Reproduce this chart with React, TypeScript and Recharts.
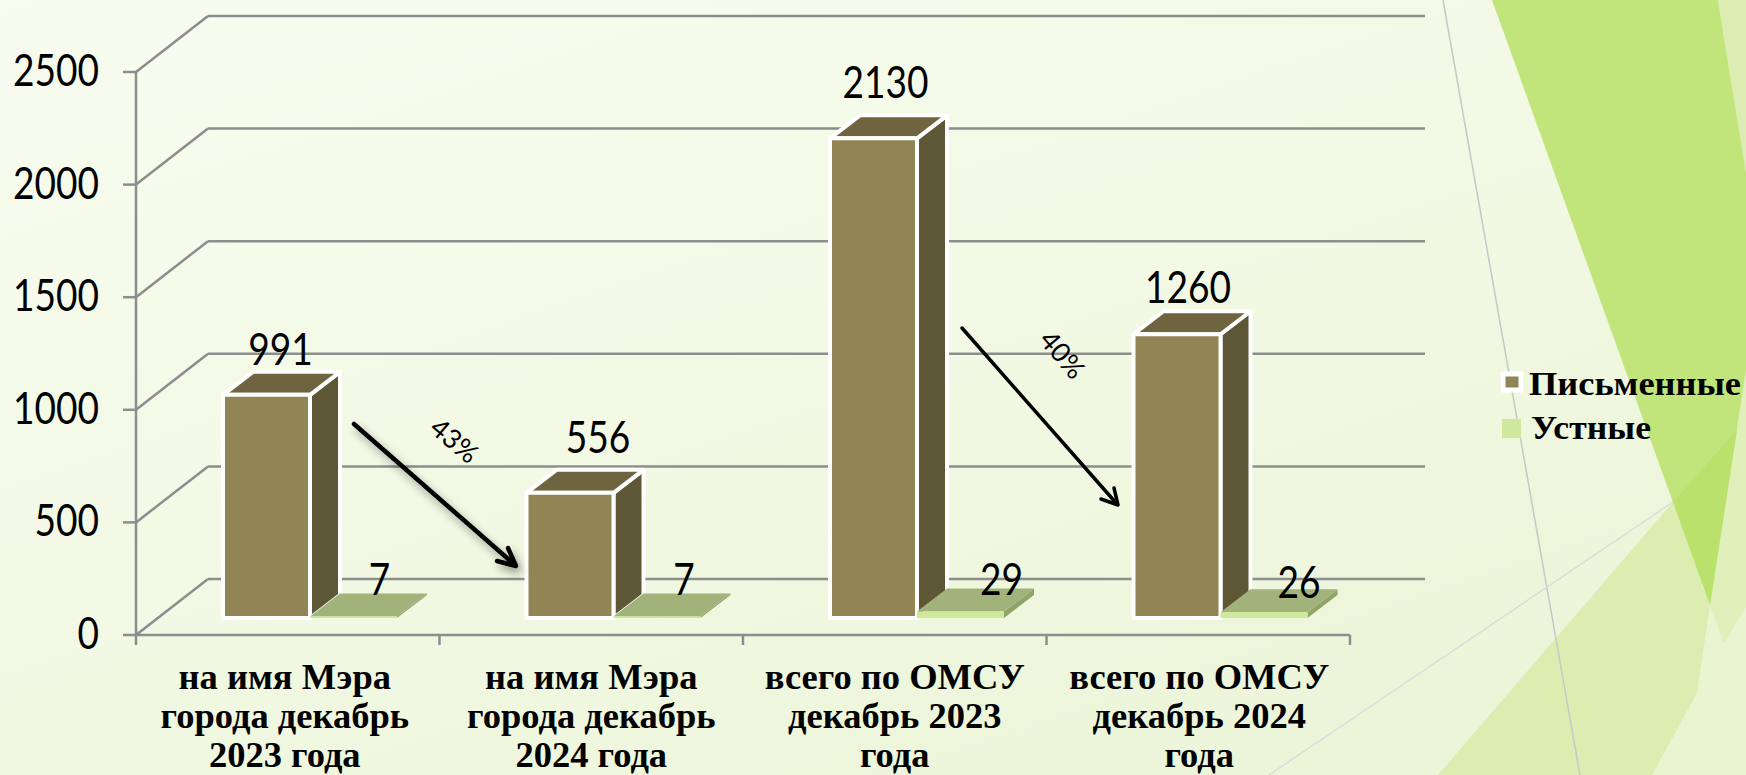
import React from "react";
import { BarChart, Bar, XAxis, YAxis, CartesianGrid, Legend, LabelList } from "recharts";

const categories = [
  "на имя Мэра\nгорода декабрь\n2023 года",
  "на имя Мэра\nгорода декабрь\n2024 года",
  "всего по ОМСУ\nдекабрь 2023\nгода",
  "всего по ОМСУ\nдекабрь 2024\nгода",
];
const written = [991, 556, 2130, 1260];
const oral = [7, 7, 29, 26];
const yTicks = [0, 500, 1000, 1500, 2000, 2500];
const data = categories.map((name, i) => ({ name, written: written[i], oral: oral[i] }));

const NUM_FONT = "Lato,'Liberation Sans',sans-serif";
const SERIF = "'Liberation Serif',serif";
const WALL_DX = 72, WALL_DY = -56;
const BAR_DX = 22, BAR_DY = -17;
const TOP_DX = 30, TOP_DY = -23;
const LEFT = 136, RIGHT = 1350, FLOOR = 635;
const GRID = "#8d8d8d";
const DIGIT_W = 21.5;

const writtenShift = [[14, -61], [28, -71], [12, -71], [11, -62]];
const oralShift = [[26, -52], [27, -52], [41, -47], [35, -45]];
const tickShift = [-3, 0, 0, 1];

function Num({ x, y, value, anchor = "middle" }: any) {
  const s = String(value);
  return (
    <text x={x} y={y} textAnchor={anchor} fontFamily={NUM_FONT} fontSize={44} fill="#000"
      textLength={s.length * DIGIT_W} lengthAdjust="spacingAndGlyphs">{s}</text>
  );
}

function Block({ x, y, width, height, front, top, side, border }: any) {
  const X = x + BAR_DX, Y = y + BAR_DY, B = Y + height, R = X + width;
  const st = border ? { stroke: "#ffffff", strokeWidth: 4, strokeLinejoin: "round" as const } : {};
  return (
    <g>
      <polygon points={`${R},${Y} ${R + TOP_DX},${Y + TOP_DY} ${R + TOP_DX},${B + TOP_DY} ${R},${B}`} fill={side} {...st} />
      <polygon points={`${X},${Y} ${X + TOP_DX},${Y + TOP_DY} ${R + TOP_DX},${Y + TOP_DY} ${R},${Y}`} fill={top} {...st} />
      <rect x={X} y={Y} width={width} height={height} fill={front} {...st} />
    </g>
  );
}
const WrittenBar = (p: any) => <Block {...p} front="#918556" top="#6e6540" side="#5e5736" border />;
const OralBar = (p: any) => <Block {...p} front="#cfe89c" top="#a2b27b" side="#8fa568" />;

const makeLabel = (shift: number[][]) => (p: any) => {
  const { x, y, width, value, index } = p;
  return <Num x={x + BAR_DX + width / 2 + shift[index][0]} y={y + BAR_DY + shift[index][1] + 17 + 14} value={value} />;
};

function YTick({ y, payload }: any) {
  return (
    <g>
      <line x1={LEFT - 13} x2={LEFT} y1={y} y2={y} stroke={GRID} strokeWidth={2.5} />
      <Num x={99} y={y + 14} value={payload.value} anchor="end" />
    </g>
  );
}

function XTick({ x, payload, index }: any) {
  const lines = String(payload.value).split("\n");
  const half = (RIGHT - LEFT) / categories.length / 2;
  return (
    <g>
      <line x1={x - half} x2={x - half} y1={FLOOR} y2={FLOOR + 10} stroke={GRID} strokeWidth={2.5} />
      {index === categories.length - 1 && (
        <line x1={x + half} x2={x + half} y1={FLOOR} y2={FLOOR + 10} stroke={GRID} strokeWidth={2.5} />
      )}
      {lines.map((l, i) => (
        <text key={i} x={x + tickShift[index]} y={689 + i * 39} textAnchor="middle" fontFamily={SERIF} fontWeight="bold" fontSize={36.5} fill="#000">{l}</text>
      ))}
    </g>
  );
}

function GridLine(p: any) {
  const { x1, x2, y1 } = p;
  return (
    <g>
      <line x1={x1} y1={y1} x2={x1 + WALL_DX} y2={y1 + WALL_DY} stroke={GRID} strokeWidth={2.5} />
      <line x1={x1 + WALL_DX} y1={y1 + WALL_DY} x2={x2 + WALL_DX + 3} y2={y1 + WALL_DY} stroke={GRID} strokeWidth={2.5} />
    </g>
  );
}

function LegendBox() {
  return (
    <svg width={246} height={90} style={{ display: "block" }}>
      <rect x={4} y={8} width={18} height={16} fill="#918556" stroke="#fff" strokeWidth={5} />
      <text x={30} y={29} fontFamily={SERIF} fontWeight="bold" fontSize={33} textLength={212} lengthAdjust="spacingAndGlyphs" fill="#000">Письменные</text>
      <rect x={3} y={53} width={19} height={19} fill="#cfe89c" />
      <text x={32} y={73} fontFamily={SERIF} fontWeight="bold" fontSize={33} textLength={120} lengthAdjust="spacingAndGlyphs" fill="#000">Устные</text>
    </svg>
  );
}

function Backdrop() {
  return (
    <svg width={1746} height={775} style={{ position: "absolute", left: 0, top: 0 }}>
      <defs>
        <linearGradient id="bg" x1="0" y1="0" x2="0.75" y2="1">
          <stop offset="0" stopColor="#f8fcf0" />
          <stop offset="0.5" stopColor="#f3f9e5" />
          <stop offset="1" stopColor="#ebf5d8" />
        </linearGradient>
      </defs>
      <rect width={1746} height={775} fill="url(#bg)" />
      <polygon points="1746,370 1710,605 1697,692 1652,775 1746,775" fill="#e9f4d1" />
      <polygon points="1746,370 1710,605 1724,643 1746,607" fill="#dff0bb" />
      <polygon points="1718,0 1746,0 1746,173" fill="#dcedb3" />
      <polygon points="1492,0 1718,0 1746,173 1746,370 1710,605" fill="#c2e57b" />
      <polygon points="1438,775 1673,502 1710,605 1697,693 1652,775" fill="#dcedb1" />
      <polygon points="1673,502 1737,430 1710,605" fill="#bbe16d" />
      <line x1="1443" y1="0" x2="1580" y2="775" stroke="#c4c8c6" strokeWidth={1.5} />
      <line x1="1269" y1="775" x2="1673" y2="502" stroke="#d9ddd8" strokeWidth={1.5} />
    </svg>
  );
}

function Annotations() {
  return (
    <svg width={1746} height={775} style={{ position: "absolute", left: 0, top: 0, pointerEvents: "none" }}>
      <g style={{ filter: "drop-shadow(3px 5px 4px rgba(0,0,0,0.4))" }} fill="none" stroke="#000" strokeWidth={4.5} strokeLinecap="round" strokeLinejoin="round">
        <line x1={354} y1={424} x2={515} y2={565} />
        <path d="M508,548 L516,566 L497,561" />
      </g>
      <g fill="none" stroke="#000" strokeWidth={3.5} strokeLinecap="round" strokeLinejoin="round">
        <line x1={962} y1={328} x2={1117} y2={504} />
        <path d="M1114,488 L1118,505 L1101,499" />
      </g>
      <text transform="translate(454,441) rotate(40)" y={9} textAnchor="middle" fontFamily={NUM_FONT} fontSize={27} fill="#000">43%</text>
      <text transform="translate(1062,355) rotate(50)" y={9} textAnchor="middle" fontFamily={NUM_FONT} fontSize={27} fill="#000">40%</text>
    </svg>
  );
}

export default function App() {
  return (
    <div style={{ position: "absolute", left: 0, top: 0, width: 1746, height: 775, overflow: "hidden" }}>
      <Backdrop />
      <div style={{ position: "absolute", left: 0, top: 0 }}>
        <BarChart width={1746} height={775} data={data} margin={{ top: 72, right: 150, bottom: 0, left: 0 }}
          barCategoryGap={65} barGap={0}>
          <CartesianGrid horizontal={GridLine as any} vertical={false} syncWithTicks />
          <XAxis dataKey="name" height={140} interval={0} tick={<XTick />} tickLine={false} axisLine={{ stroke: GRID, strokeWidth: 2.5 }} />
          <YAxis width={136} domain={[0, 2500]} ticks={yTicks} tick={<YTick />} tickLine={false} axisLine={{ stroke: GRID, strokeWidth: 2.5 }} />
          <Legend layout="vertical" align="right" verticalAlign="top" content={<LegendBox />}
            wrapperStyle={{ left: 1499, top: 366, width: 246 }} />
          <Bar dataKey="written" name="Письменные" isAnimationActive={false} shape={WrittenBar}>
            <LabelList dataKey="written" content={makeLabel(writtenShift)} />
          </Bar>
          <Bar dataKey="oral" name="Устные" isAnimationActive={false} shape={OralBar}>
            <LabelList dataKey="oral" content={makeLabel(oralShift)} />
          </Bar>
        </BarChart>
      </div>
      <Annotations />
    </div>
  );
}
